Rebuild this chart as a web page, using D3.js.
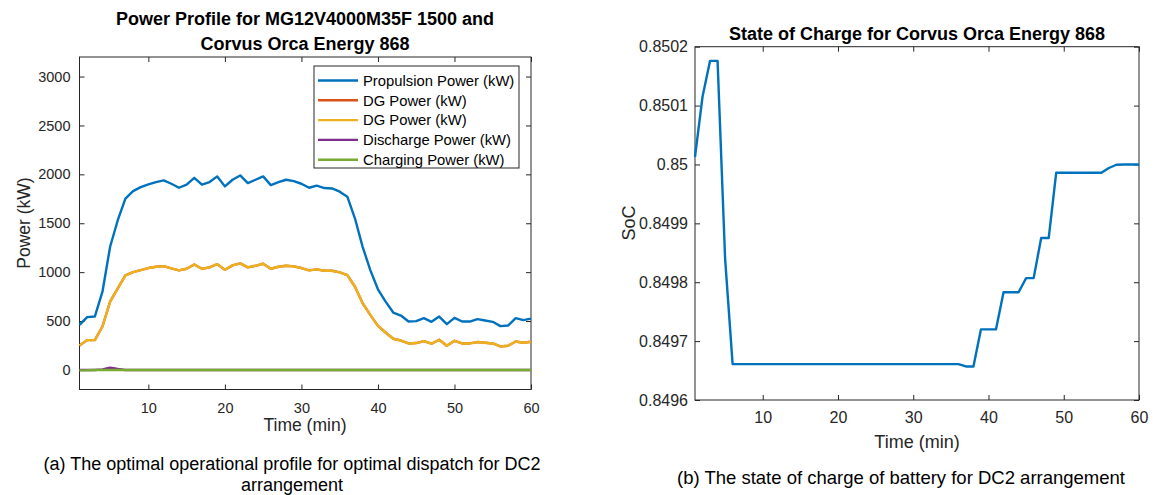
<!DOCTYPE html>
<html>
<head>
<meta charset="utf-8">
<script src="https://cdn.jsdelivr.net/npm/d3@7"></script>
<style>
  body { margin: 0; background: #fff; }
  svg text { font-family: "Liberation Sans", Arial, Helvetica, sans-serif; fill: #262626; }
  .axis path.domain { display: none; }
  .axis line { stroke: #262626; }
</style>
</head>
<body>
<svg id="chart" width="1153" height="495"></svg>
<script>
// time axis (min)
const minutes = d3.range(1, 61);

// power profile (kW)
const propulsion = [
  461, 540, 546, 800, 1260, 1531, 1751, 1829, 1870, 1897,
  1921, 1938, 1904, 1863, 1894, 1965, 1894, 1921, 1979, 1877,
  1945, 1989, 1911, 1945, 1979, 1890, 1921, 1945, 1931, 1904,
  1863, 1884, 1860, 1856, 1823, 1772, 1548, 1259, 1021, 825,
  699, 587, 556, 495, 499, 530, 492, 546, 468, 533,
  495, 495, 519, 505, 492, 448, 454, 530, 509, 525
];
const dgPower = [
  251, 305, 305, 444, 699, 835, 967, 1001, 1021, 1042,
  1055, 1062, 1039, 1018, 1035, 1079, 1035, 1049, 1082, 1024,
  1069, 1090, 1049, 1065, 1086, 1035, 1055, 1065, 1059, 1042,
  1018, 1028, 1014, 1014, 998, 970, 851, 682, 563, 451,
  383, 319, 301, 271, 275, 295, 268, 309, 247, 298,
  271, 271, 285, 278, 271, 240, 247, 291, 278, 288
];
const discharge = [
  0, 0, 0, 6, 24, 10, 0, 0, 0, 0,
  0, 0, 0, 0, 0, 0, 0, 0, 0, 0,
  0, 0, 0, 0, 0, 0, 0, 0, 0, 0,
  0, 0, 0, 0, 0, 0, 0, 0, 0, 0,
  0, 0, 0, 0, 0, 0, 0, 0, 0, 0,
  0, 0, 0, 0, 0, 0, 0, 0, 0, 0
];
const charging = [
  -4, -3, 0, 0, 0, 0, 0, 0, 0, 0,
  0, 0, 0, 0, 0, 0, 0, 0, 0, 0,
  0, 0, 0, 0, 0, 0, 0, 0, 0, 0,
  0, 0, 0, 0, 0, 0, 0, 0, 0, 0,
  0, 0, 0, 0, 0, 0, 0, 0, 0, 0,
  0, 0, 0, 0, 0, 0, 0, 0, 0, 0
];

// battery state of charge
const soc = [
  0.850013, 0.850115, 0.850176, 0.850176, 0.849840, 0.849661, 0.849661, 0.849661, 0.849661, 0.849661,
  0.849661, 0.849661, 0.849661, 0.849661, 0.849661, 0.849661, 0.849661, 0.849661, 0.849661, 0.849661,
  0.849661, 0.849661, 0.849661, 0.849661, 0.849661, 0.849661, 0.849661, 0.849661, 0.849661, 0.849661,
  0.849661, 0.849661, 0.849661, 0.849661, 0.849661, 0.849661, 0.849657, 0.849657, 0.849720, 0.849720,
  0.849720, 0.849783, 0.849783, 0.849783, 0.849807, 0.849807, 0.849875, 0.849875, 0.849986, 0.849986,
  0.849986, 0.849986, 0.849986, 0.849986, 0.849986, 0.849994, 0.8499995, 0.850000, 0.850000, 0.850000
];

const xTicks = [10, 20, 30, 40, 50, 60];
const powerTicks = [0, 500, 1000, 1500, 2000, 2500, 3000];
const socTicks = [0.8496, 0.8497, 0.8498, 0.8499, 0.85, 0.8501, 0.8502];

const powerSeries = [
  { name: 'Propulsion Power (kW)', values: propulsion, color: '#0072BD' },
  { name: 'DG Power (kW)', values: dgPower, color: '#D95319' },
  { name: 'DG Power (kW)', values: dgPower, color: '#EDB120' },
  { name: 'Discharge Power (kW)', values: discharge, color: '#7E2F8E' },
  { name: 'Charging Power (kW)', values: charging, color: '#77AC30' }
];

const svg = d3.select('#chart');

function drawPanel(opts) {
  const { left, right, top, bottom, yDomain, yTicks, yFormat, fs } = opts;
  const x = d3.scaleLinear().domain([1, 60]).range([left, right]);
  const y = d3.scaleLinear().domain(yDomain).range([bottom, top]);
  const g = svg.append('g');

  // ticks on all four sides, pointing inwards
  g.append('g').attr('class', 'axis')
    .attr('transform', `translate(0,${bottom})`)
    .call(d3.axisBottom(x).tickValues(xTicks).tickSizeInner(-5).tickSizeOuter(0).tickPadding(opts.xPad))
    .selectAll('text').style('font-size', fs.tick + 'px');
  g.append('g').attr('class', 'axis')
    .attr('transform', `translate(0,${top})`)
    .call(d3.axisTop(x).tickValues(xTicks).tickSizeInner(-5).tickSizeOuter(0).tickFormat(''));
  g.append('g').attr('class', 'axis')
    .attr('transform', `translate(${left},0)`)
    .call(d3.axisLeft(y).tickValues(yTicks).tickSizeInner(-5).tickSizeOuter(0).tickPadding(opts.yPad).tickFormat(yFormat))
    .selectAll('text').style('font-size', fs.tick + 'px');
  g.append('g').attr('class', 'axis')
    .attr('transform', `translate(${right},0)`)
    .call(d3.axisRight(y).tickValues(yTicks).tickSizeInner(-5).tickSizeOuter(0).tickFormat(''));

  g.append('rect')
    .attr('x', left).attr('y', top)
    .attr('width', right - left).attr('height', bottom - top)
    .attr('fill', 'none').attr('stroke', '#262626').attr('stroke-width', 1);

  const line = d3.line().x((d, i) => x(minutes[i])).y(d => y(d));
  opts.series.forEach(s => {
    g.append('path')
      .datum(s.values)
      .attr('d', line)
      .attr('fill', 'none')
      .attr('stroke', s.color)
      .attr('stroke-width', 2.4)
      .attr('stroke-linejoin', 'round');
  });

  return { g, x, y };
}

// ---- left panel: power profile
const p1 = drawPanel({
  left: 79.5, right: 531, top: 57, bottom: 389.5,
  yDomain: [-200, 3200], yTicks: powerTicks, yFormat: d3.format('d'),
  xPad: 13, yPad: 9, fs: { tick: 14.5 },
  series: powerSeries
});

p1.g.append('text').attr('x', 305).attr('y', 24.5).attr('text-anchor', 'middle')
  .style('font-size', '18px').style('font-weight', 'bold').style('fill', '#000')
  .text('Power Profile for MG12V4000M35F 1500 and');
p1.g.append('text').attr('x', 305).attr('y', 49.5).attr('text-anchor', 'middle')
  .style('font-size', '18px').style('font-weight', 'bold').style('fill', '#000')
  .text('Corvus Orca Energy 868');
p1.g.append('text').attr('transform', 'translate(30,223) rotate(-90)').attr('text-anchor', 'middle')
  .style('font-size', '17.5px').text('Power (kW)');
p1.g.append('text').attr('x', 305).attr('y', 431).attr('text-anchor', 'middle')
  .style('font-size', '17.5px').text('Time (min)');

// legend
const legend = p1.g.append('g').attr('transform', 'translate(314,66)');
legend.append('rect').attr('width', 205).attr('height', 102)
  .attr('fill', '#fff').attr('stroke', '#262626').attr('stroke-width', 1);
powerSeries.forEach((s, i) => {
  const ly = 14.5 + i * 19.8;
  legend.append('line').attr('x1', 4).attr('x2', 44).attr('y1', ly).attr('y2', ly)
    .attr('stroke', s.color).attr('stroke-width', 2.4);
  legend.append('text').attr('x', 49).attr('y', ly + 5.3).style('font-size', '14.8px').style('fill', '#000')
    .text(s.name);
});

// ---- right panel: state of charge
const p2 = drawPanel({
  left: 695, right: 1139, top: 46.7, bottom: 400,
  yDomain: [0.8496, 0.8502], yTicks: socTicks, yFormat: d => d3.format('')(+d.toFixed(4)),
  xPad: 12, yPad: 7, fs: { tick: 16 },
  series: [{ name: 'SoC', values: soc, color: '#0072BD' }]
});

p2.g.append('text').attr('x', 917).attr('y', 39.5).attr('text-anchor', 'middle')
  .style('font-size', '18px').style('font-weight', 'bold').style('fill', '#000')
  .text('State of Charge for Corvus Orca Energy 868');
p2.g.append('text').attr('transform', 'translate(635,223) rotate(-90)').attr('text-anchor', 'middle')
  .style('font-size', '18px').text('SoC');
p2.g.append('text').attr('x', 917).attr('y', 447.5).attr('text-anchor', 'middle')
  .style('font-size', '18px').text('Time (min)');

// captions
svg.append('text').attr('x', 292).attr('y', 469.5).attr('text-anchor', 'middle')
  .style('font-size', '18px').style('fill', '#000')
  .text('(a) The optimal operational profile for optimal dispatch for DC2');
svg.append('text').attr('x', 292).attr('y', 491).attr('text-anchor', 'middle')
  .style('font-size', '18px').style('fill', '#000')
  .text('arrangement');
svg.append('text').attr('x', 901).attr('y', 483.5).attr('text-anchor', 'middle')
  .style('font-size', '18.5px').style('fill', '#000')
  .text('(b) The state of charge of battery for DC2 arrangement');
</script>
</body>
</html>
